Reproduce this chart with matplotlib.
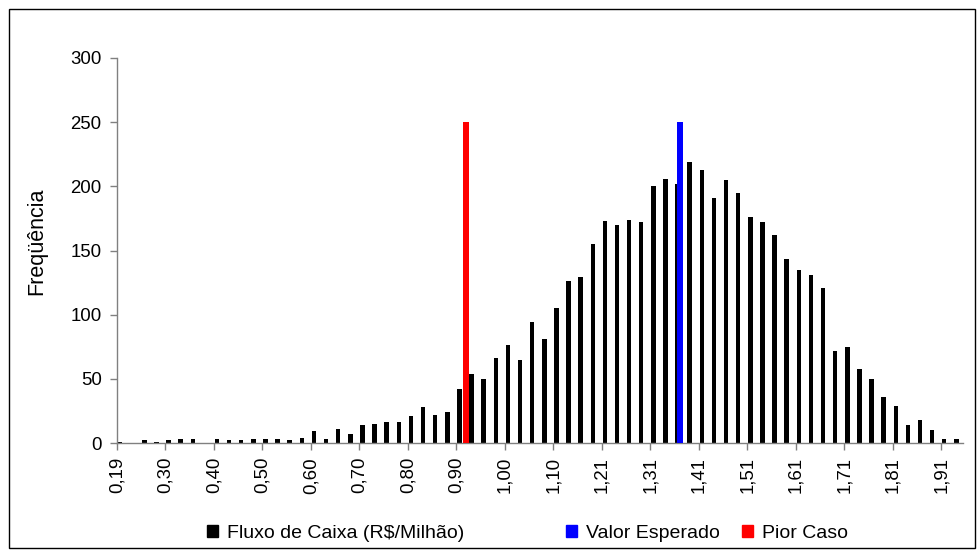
import numpy as np
import matplotlib
matplotlib.use('Agg')
import matplotlib.pyplot as plt
from matplotlib.patches import Rectangle, Patch

plt.rcParams['font.family'] = ['Liberation Sans', 'DejaVu Sans']

# frequencia de cada classe do fluxo de caixa (70 classes)
frequencia = [1, 0, 2, 1, 2, 3, 3, 0, 3, 2,
              2, 3, 3, 3, 2, 4, 9, 3, 11, 7,
              14, 15, 16, 16, 21, 28, 22, 24, 42, 54,
              50, 66, 76, 65, 94, 81, 105, 126, 129, 155,
              173, 170, 174, 172, 200, 206, 202, 219, 213, 191,
              205, 195, 176, 172, 162, 143, 135, 131, 121, 72,
              75, 58, 50, 36, 29, 14, 18, 10, 3, 3]

rotulos_x = ['0,19', '0,30', '0,40', '0,50', '0,60', '0,70', '0,80', '0,90', '1,00',
             '1,10', '1,21', '1,31', '1,41', '1,51', '1,61', '1,71', '1,81', '1,91']

bin_inicio = 0.1945
bin_largura = 0.0253

valor_esperado = 1.37
pior_caso = 0.923
altura_linhas = 250

fig = plt.figure(figsize=(9.79, 5.56), dpi=100)
ax = fig.add_axes([0.1195, 0.2032, 0.8642, 0.6925])

n = len(frequencia)
# barras levemente deslocadas da marca, como no grafico original
ax.bar(np.arange(n) + 0.25, frequencia, width=0.37, color='black', zorder=2)

pos_esperado = (valor_esperado - bin_inicio) / bin_largura
pos_pior = (pior_caso - bin_inicio) / bin_largura
ax.bar([pos_esperado], [altura_linhas], width=0.46, color='#0000FF', zorder=3)
ax.bar([pos_pior], [altura_linhas], width=0.46, color='#FF0000', zorder=3)

ax.set_xlim(0, 69.8)
ax.set_ylim(0, 300)
ax.set_yticks(np.arange(0, 301, 50))
ax.set_xticks(np.arange(0, n, 4))
ax.set_xticklabels(rotulos_x, rotation=90)

for s in ['top', 'right']:
    ax.spines[s].set_visible(False)
for s in ['left', 'bottom']:
    ax.spines[s].set_color('#808080')
    ax.spines[s].set_linewidth(1)
ax.tick_params(axis='both', colors='#808080', labelcolor='black',
               labelsize=13.4, length=5, width=1, direction='out')
ax.tick_params(axis='y', pad=6)
ax.tick_params(axis='x', pad=5)

fig.text(37 / 979, 1 - 241 / 556, 'Freqüência', rotation=90,
         ha='center', va='center', fontsize=15.5)

itens = [('Fluxo de Caixa (R$/Milhão)', 'black', 207),
         ('Valor Esperado', '#0000FF', 566),
         ('Pior Caso', '#FF0000', 742)]
for texto, cor, xpix in itens:
    fig.legend(handles=[Patch(facecolor=cor, edgecolor=cor)], labels=[texto],
               loc='center left', bbox_to_anchor=(xpix / 979, 1 - 533 / 556),
               frameon=False, fontsize=14, handlelength=0.58, handleheight=0.58,
               handletextpad=0.45, borderpad=0, borderaxespad=0)

fig.patches.append(Rectangle((9 / 979, 1 - 548 / 556), 966 / 979, 539 / 556,
                             transform=fig.transFigure, fill=False,
                             edgecolor='black', linewidth=1))

fig.savefig('out.png', dpi=100)
